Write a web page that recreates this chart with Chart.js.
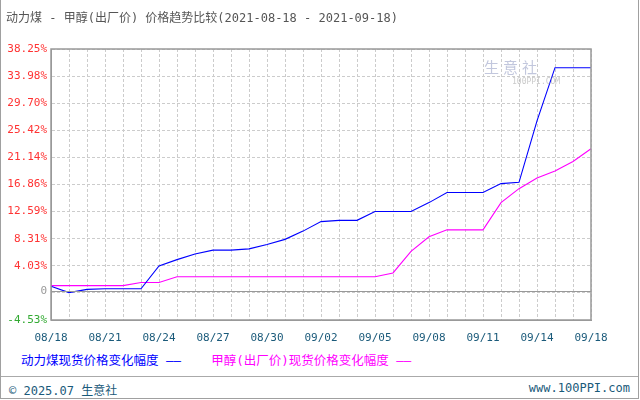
<!DOCTYPE html>
<html>
<head>
<meta charset="utf-8">
<script src="https://cdn.jsdelivr.net/npm/chart.js@4"></script>
<style>
  body { margin: 0; background: #fff; }
  #wrap { position: relative; width: 637px; height: 398px; border: 1px solid #a0a0a0; border-top: none; overflow: hidden;
          font-family: "DejaVu Sans Mono", "Noto Sans CJK SC", monospace; }
  #title { position: absolute; left: 5px; top: 8px; font-size: 12px; color: #555; white-space: nowrap; }
  #box { position: absolute; left: 0; top: 0; width: 640px; height: 345px; }
  #legend { position: absolute; left: 20px; top: 350px; font-size: 12.5px; white-space: nowrap; }
  #footer { position: absolute; left: 0; top: 376px; width: 637px; height: 22px; border-top: 1px solid #aaa; background: #fff;
            font-size: 12px; color: #1a5a7a; }
  #wm { position: absolute; left: 483px; top: 56px; color: rgba(120,130,180,0.45); font-size: 15px; font-family: "Noto Sans CJK SC"; letter-spacing: 4px; }
  #wm2 { position: absolute; left: 511px; top: 77px; color: rgba(150,150,150,0.5); font-size: 8px; }
</style>
</head>
<body>
<div id="wrap">
  <div id="box"><canvas id="c"></canvas></div>
  <div id="title">动力煤 - 甲醇(出厂价) 价格趋势比较(2021-08-18 - 2021-09-18)</div>
  <div id="wm">生意社</div><div id="wm2">100PPI.COM</div>
  <div id="legend"><span style="color:#0000ff">动力煤现货价格变化幅度 ——</span>&nbsp;&nbsp;&nbsp;&nbsp;<span style="color:#ff00ff">甲醇(出厂价)现货价格变化幅度 ——</span></div>
  <div id="footer"><span style="position:absolute;left:8px;top:4px">© 2025.07 生意社</span><span style="position:absolute;right:8px;top:4px">www.100PPI.com</span></div>
</div>
<script>
// ----------------------------
// Data
// ----------------------------
var dates = ['08/18','08/19','08/20','08/21','08/22','08/23','08/24','08/25','08/26','08/27',
             '08/28','08/29','08/30','08/31','09/01','09/02','09/03','09/04','09/05','09/06',
             '09/07','09/08','09/09','09/10','09/11','09/12','09/13','09/14','09/15','09/16','09/18'];
var coalChange = [0.8, -0.2, 0.3, 0.4, 0.4, 0.4, 4.0, 5.0, 5.9, 6.5,
                  6.5, 6.7, 7.4, 8.2, 9.5, 11.0, 11.2, 11.2, 12.6, 12.6,
                  12.6, 14.0, 15.6, 15.6, 15.6, 17.0, 17.2, 26.9, 35.3, 35.3, 35.3];
var methanolChange = [0.9, 0.9, 0.9, 0.9, 0.9, 1.4, 1.4, 2.3, 2.3, 2.3,
                      2.3, 2.3, 2.3, 2.3, 2.3, 2.3, 2.3, 2.3, 2.3, 2.9,
                      6.3, 8.6, 9.7, 9.7, 9.7, 14.0, 16.2, 17.9, 19.0, 20.5, 22.5];
var yTicks = [-4.53, -0.25, 0, 4.03, 8.31, 12.59, 16.86, 21.14, 25.42, 29.70, 33.98, 38.25];

var tickFont = { family: 'DejaVu Sans Mono', size: 11 };

// zero line drawn solid across the plot
var zeroLine = {
    id: 'zeroLine',
    afterDatasetsDraw: function (chart) {
        var ctx = chart.ctx, a = chart.chartArea;
        var y = Math.round(chart.scales.y.getPixelForValue(0)) + 0.5;
        ctx.save();
        ctx.strokeStyle = '#999';
        ctx.lineWidth = 1;
        ctx.beginPath();
        ctx.moveTo(a.left, y);
        ctx.lineTo(a.right, y);
        ctx.stroke();
        ctx.restore();
    }
};

new Chart(document.getElementById('c'), {
    type: 'line',
    data: {
        labels: dates,
        datasets: [
            { label: '动力煤现货价格变化幅度', data: coalChange, borderColor: '#0000ff', borderWidth: 1.1, pointRadius: 0, tension: 0 },
            { label: '甲醇(出厂价)现货价格变化幅度', data: methanolChange, borderColor: '#ff00ff', borderWidth: 1.1, pointRadius: 0, tension: 0 }
        ]
    },
    options: {
        responsive: true,
        maintainAspectRatio: false,
        animation: false,
        layout: { padding: { top: 49, right: 50, left: 0, bottom: 0 } },
        plugins: { legend: { display: false }, tooltip: { enabled: false } },
        scales: {
            x: {
                afterFit: function (s) { s.height = 25; },
                grid: { color: '#ccc', drawTicks: false },
                border: { color: '#999', dash: [3, 2] },
                ticks: {
                    autoSkip: false, maxRotation: 0, padding: 12, color: '#1a5a7a', font: tickFont,
                    callback: function (v, i) { return i % 3 === 0 ? dates[i] : ''; }
                }
            },
            y: {
                min: -4.53, max: 38.25,
                afterFit: function (s) { s.width = 50; },
                afterBuildTicks: function (s) { s.ticks = yTicks.map(function (v) { return { value: v }; }); },
                grid: {
                    drawTicks: false,
                    color: function (c) { return c.tick && c.tick.value === 0 ? 'rgba(0,0,0,0)' : '#ccc'; }
                },
                border: { color: '#999', dash: [3, 2] },
                ticks: {
                    padding: 4, font: tickFont,
                    color: function (c) { var v = c.tick.value; return v > 0 ? '#ff3333' : v < 0 ? '#33aa33' : '#999'; },
                    callback: function (v) {
                        if (v === 0) return '0';
                        if (v === -0.25) return '';
                        return v.toFixed(2) + '%';
                    }
                }
            }
        }
    },
    plugins: [zeroLine, {
        id: 'frame',
        afterDraw: function (chart) {
            var ctx = chart.ctx, a = chart.chartArea;
            ctx.save();
            ctx.strokeStyle = '#999';
            ctx.lineWidth = 1.5;
            ctx.strokeRect(a.left, a.top, a.right - a.left, a.bottom - a.top);
            ctx.restore();
        }
    }]
});
</script>
</body>
</html>
